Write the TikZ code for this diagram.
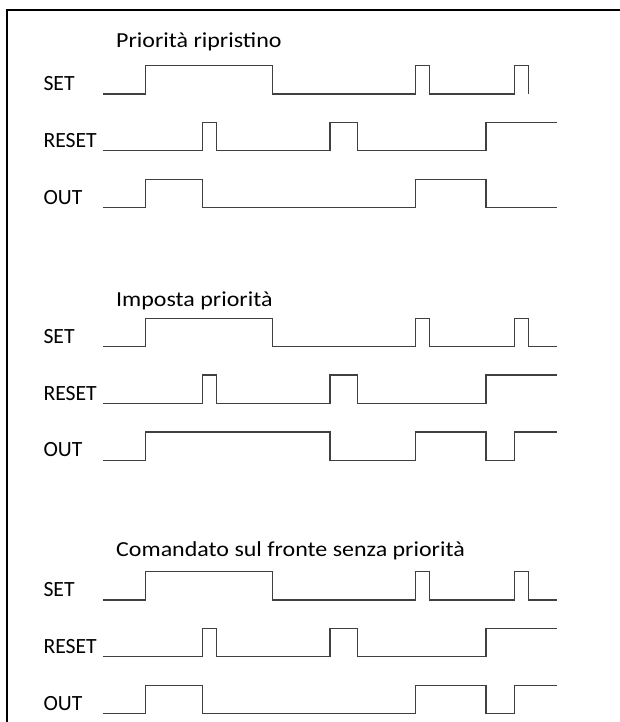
\documentclass[tikz,border=0pt]{standalone}
\usepackage{fontspec}
\setmainfont{Carlito}
\newfontfamily\titlefont[FakeStretch=1.12]{Carlito}
\newcommand\sigsetreset[1]{%
  \draw[wave] (103,94) -- (145.7,94) -- (145.7,65.7) -- (272.7,65.7) -- (272.7,94)
    -- (415.5,94) -- (415.5,65.7) -- (429.3,65.7) -- (429.3,94)
    -- (514.3,94) -- (514.3,65.7) -- (528.3,65.7) -- (528.3,94) #1;
  \draw[wave] (103,150.7) -- (202.3,150.7) -- (202.3,122.4) -- (216.3,122.4) -- (216.3,150.7)
    -- (330,150.7) -- (330,122.4) -- (357.7,122.4) -- (357.7,150.7)
    -- (486,150.7) -- (486,122.4) -- (556.7,122.4);
}
\begin{document}
\begin{tikzpicture}[x=1pt,y=-1pt,
  wave/.style={draw=black!75, line width=1.25pt},
  lbl/.style={anchor=base west, inner sep=0pt, text=black,
    font=\fontsize{21.7}{24}\selectfont},
  ttl/.style={anchor=base west, inner sep=0pt, text=black,
    font=\titlefont\fontsize{21.4}{24}\selectfont},
  frame/.style={draw=black, line width=2.2pt}]
\useasboundingbox (0,0) rectangle (620,722);
\draw[frame] (620,10) -- (7,10) -- (7,722);

% diagram 1
\begin{scope}
\node[ttl] (t1) at (116,47.8) {Priorità ripristino};
\node[lbl] (s1) at (43.3,90.6) {SET};
\node[lbl] (r1) at (43.3,147.3) {RESET};
\node[lbl] (o1) at (43.3,204.1) {OUT};
\sigsetreset{}
\draw[wave] (103,207.6) -- (145.7,207.6) -- (145.7,179.3) -- (202.3,179.3) -- (202.3,207.6)
  -- (415.5,207.6) -- (415.5,179.3) -- (486,179.3) -- (486,207.6) -- (556.7,207.6);
\end{scope}

% diagram 2
\begin{scope}[yshift=-252.7pt]
\node[ttl] (t2) at (116,53.3) {Imposta priorità};
\node[lbl] (s2) at (43.3,90.6) {SET};
\node[lbl] (r2) at (43.3,147.3) {RESET};
\node[lbl] (o2) at (43.3,204.1) {OUT};
\sigsetreset{-- (556.7,94)}
\draw[wave] (103,207.6) -- (145.7,207.6) -- (145.7,179.3) -- (330,179.3) -- (330,207.6)
  -- (415.5,207.6) -- (415.5,179.3) -- (486,179.3) -- (486,207.6)
  -- (514.3,207.6) -- (514.3,179.3) -- (556.7,179.3);
\end{scope}

% diagram 3
\begin{scope}[yshift=-506pt]
\node[ttl] (t3) at (116,50) {Comandato sul fronte senza priorità};
\node[lbl] (s3) at (43.3,90.6) {SET};
\node[lbl] (r3) at (43.3,147.3) {RESET};
\node[lbl] (o3) at (43.3,204.1) {OUT};
\sigsetreset{-- (556.7,94)}
\draw[wave] (103,207.6) -- (145.7,207.6) -- (145.7,179.3) -- (202.3,179.3) -- (202.3,207.6)
  -- (415.5,207.6) -- (415.5,179.3) -- (486,179.3) -- (486,207.6)
  -- (514.3,207.6) -- (514.3,179.3) -- (556.7,179.3);
\end{scope}
\end{tikzpicture}
\end{document}
